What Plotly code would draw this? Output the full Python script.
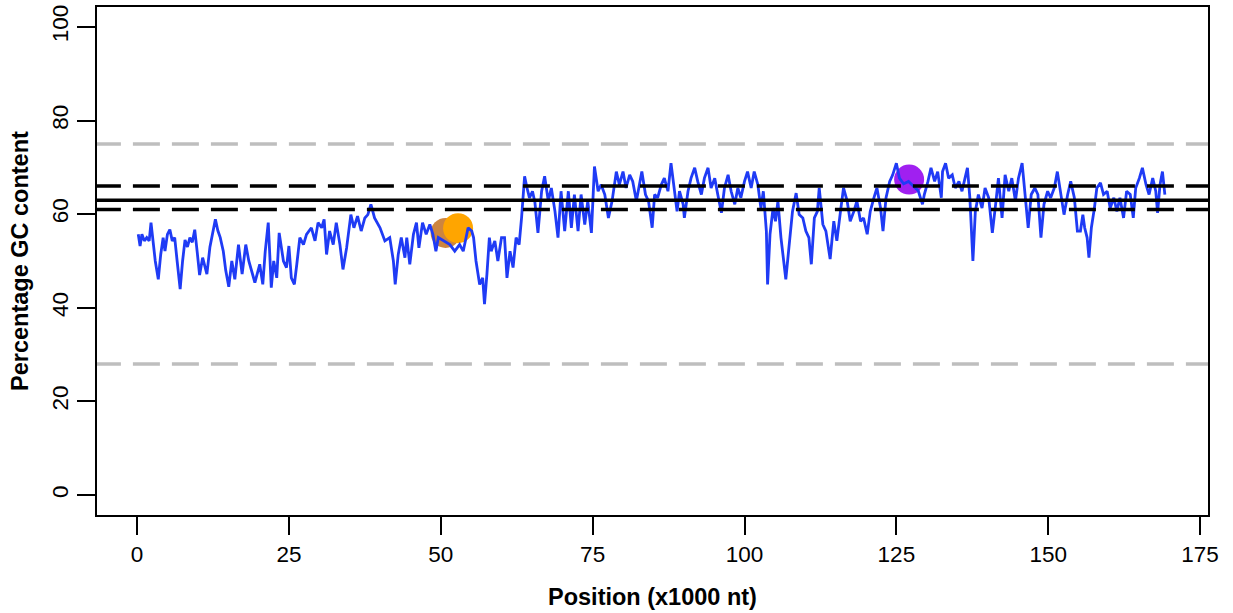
import plotly.graph_objects as go

# Position (x1000 nt) and GC content (%)
position = [
    0.2, 0.5, 0.8, 1.2, 1.6, 2.0, 2.3, 2.7, 3.0, 3.5, 3.9, 4.3, 4.6, 5.0, 5.4, 5.8, 6.2, 6.6, 7.1, 7.5,
    7.9, 8.3, 8.7, 9.1, 9.5, 9.9, 10.3, 10.8, 11.5, 12.0, 12.4, 12.9, 13.3, 13.7, 14.2, 14.6, 15.1, 15.6,
    16.1, 16.7, 17.3, 17.9, 18.4, 19.4, 20.2, 20.7, 21.1, 21.6, 21.9, 22.1, 22.5, 23.0, 23.4, 24.1, 24.6,
    25.0, 25.4, 25.9, 26.3, 26.8, 27.4, 27.9, 28.7, 29.3, 29.8, 30.4, 30.8, 31.2, 31.7, 32.3, 32.8, 33.4,
    33.9, 34.5, 35.2, 35.7, 36.3, 36.9, 37.5, 38.0, 38.5, 39.1, 40.0, 40.8, 41.6, 42.2, 42.5, 43.0, 43.5,
    44.1, 44.4, 44.9, 45.5, 46.0, 46.4, 47.0, 47.6, 48.2, 48.7, 49.2, 49.6, 50.4, 51.5, 52.3, 53.1, 53.7,
    54.5, 55.1, 55.4, 55.8, 56.1, 56.4, 56.9, 57.2, 57.6, 58.0, 58.3, 58.9, 59.4, 60.0, 60.5, 60.9, 61.4,
    61.9, 62.4, 62.9, 63.3, 63.5, 63.8, 64.2, 64.6, 65.1, 65.5, 66.0, 66.6, 67.1, 67.7, 68.2, 68.8, 69.3,
    69.8, 70.4, 71.0, 71.5, 72.0, 72.6, 73.1, 73.7, 74.2, 74.8, 75.3, 75.9, 76.4, 77.0, 77.6, 78.2, 78.9,
    79.4, 80.0, 80.5, 81.1, 81.6, 82.2, 82.7, 83.1, 83.7, 84.2, 84.8, 85.2, 85.7, 86.3, 86.8, 87.4, 87.9,
    88.5, 88.9, 89.3, 89.9, 90.1, 90.7, 91.2, 91.8, 92.3, 92.9, 93.4, 94.0, 94.5, 95.1, 95.6, 96.2, 96.7,
    97.3, 97.8, 98.4, 98.9, 99.4, 100.0, 100.5, 101.1, 101.6, 102.2, 102.7, 103.1, 103.6, 103.8, 104.2,
    104.7, 105.1, 105.5, 106.0, 106.8, 107.4, 107.9, 108.5, 109.0, 109.6, 110.1, 110.6, 111.0, 111.5,
    112.0, 112.3, 112.9, 113.4, 114.1, 114.7, 115.2, 115.8, 116.3, 116.9, 117.4, 118.0, 118.5, 119.1,
    119.6, 120.2, 120.7, 121.3, 121.8, 122.4, 122.8, 123.3, 123.9, 124.4, 125.0, 125.5, 126.2, 127.0,
    127.8, 128.6, 129.3, 129.6, 130.2, 130.7, 131.3, 131.8, 132.4, 132.6, 133.1, 133.6, 134.2, 134.7,
    135.3, 135.8, 136.3, 136.7, 137.1, 137.6, 138.0, 138.5, 139.1, 139.6, 140.2, 140.8, 141.4, 141.8,
    142.4, 142.9, 143.5, 144.0, 144.6, 145.1, 145.7, 146.2, 146.7, 147.2, 147.8, 148.3, 148.8, 149.3,
    149.9, 150.4, 151.0, 151.5, 152.1, 152.6, 153.2, 153.7, 154.3, 154.8, 155.3, 155.7, 156.0, 156.4,
    156.7, 157.1, 157.6, 158.0, 158.6, 159.1, 159.7, 160.2, 160.8, 161.3, 161.8, 162.4, 162.9, 163.5,
    164.0, 164.4, 165.0, 165.5, 166.1, 166.6, 167.2, 167.7, 168.0, 168.4, 168.8, 169.2,
]
gc_content = [
    55.7, 53.2, 55.7, 54.3, 55.0, 54.3, 58.2, 53.5, 50.0, 46.1, 51.4, 55.0, 52.1, 55.7, 56.7, 54.3, 55.0, 50.0, 44.0, 50.0,
    54.5, 53.0, 55.0, 54.0, 56.7, 52.0, 47.0, 50.7, 47.2, 53.0, 56.0, 58.9, 56.5, 55.0, 52.1, 48.0, 44.5, 50.0,
    46.1, 53.5, 47.2, 53.5, 50.0, 45.4, 49.3, 45.0, 52.0, 58.2, 50.0, 44.3, 50.0, 46.4, 56.0, 50.0, 48.6,
    53.2, 46.4, 45.0, 49.3, 55.0, 53.5, 55.7, 57.1, 54.3, 58.2, 57.1, 58.9, 51.4, 56.4, 53.5, 58.2, 53.5,
    48.2, 52.8, 59.9, 57.1, 59.6, 56.4, 59.2, 59.9, 62.1, 59.2, 57.1, 54.3, 55.0, 50.0, 45.0, 51.4, 55.0,
    50.7, 55.0, 49.3, 55.7, 58.2, 52.8, 58.2, 55.7, 57.8, 55.7, 52.1, 55.0, 54.3, 53.5, 52.1, 53.5, 52.1,
    57.1, 56.4, 55.0, 50.0, 47.2, 45.0, 46.4, 40.8, 47.2, 55.0, 52.1, 54.3, 50.0, 55.0, 55.0, 46.4, 52.1,
    48.6, 55.0, 53.5, 59.2, 62.8, 68.1, 65.6, 63.5, 64.9, 62.5, 56.0, 64.9, 68.1, 62.8, 65.6, 60.6, 55.0,
    64.9, 56.4, 64.9, 57.1, 64.2, 56.4, 64.2, 57.8, 62.8, 56.0, 70.2, 64.9, 66.3, 64.2, 59.2, 62.8, 69.1,
    66.3, 69.1, 65.6, 68.4, 67.0, 62.8, 66.3, 69.1, 64.2, 62.8, 57.1, 64.2, 63.5, 66.3, 67.7, 64.9, 70.9,
    64.2, 60.6, 64.9, 62.1, 59.2, 64.9, 67.7, 69.9, 67.0, 64.2, 67.7, 69.9, 65.6, 67.7, 64.2, 60.3, 65.6,
    68.4, 64.9, 62.1, 65.6, 63.5, 67.0, 69.1, 65.6, 69.1, 66.3, 61.3, 64.9, 56.4, 45.0, 55.7,
    61.3, 58.5, 62.8, 55.0, 46.1, 54.3, 60.6, 64.5, 59.9, 59.2, 56.4, 55.0, 49.3, 59.2,
    60.6, 65.6, 57.8, 56.4, 50.4, 58.5, 54.3, 60.6, 65.6, 62.8, 58.5, 60.6, 62.8, 58.5,
    59.2, 55.7, 60.6, 63.5, 65.6, 61.3, 56.4, 63.5, 67.0, 68.4, 70.9, 67.7, 66.5, 67.0,
    66.0, 65.0, 62.1, 64.2, 67.0, 69.9, 67.0, 69.1, 63.5, 69.1, 70.9, 67.7, 68.4, 65.6,
    67.0, 64.9, 67.7, 69.9, 63.5, 50.0, 60.6, 64.2, 61.3, 65.6, 63.5, 56.0, 62.8, 67.7,
    59.2, 68.4, 64.9, 67.7, 62.8, 67.7, 70.9, 64.2, 57.1, 64.2, 65.6, 64.2, 55.0, 62.1,
    64.9, 63.5, 65.6, 69.1, 63.5, 59.9, 64.2, 67.0, 63.5, 56.4, 56.4, 59.9, 57.1, 55.0,
    50.7, 57.1, 61.3, 65.6, 66.7, 64.2, 64.9, 61.3, 63.5, 60.6, 63.5, 59.2, 64.9, 64.2,
    59.2, 65.6, 67.7, 69.9, 66.3, 64.2, 67.7, 64.9, 60.3, 66.3, 69.1, 64.2,
]

# Highlighted points
point_x = [50.8, 52.85, 127.1]
point_y = [56.0, 57.0, 67.4]
point_colors = ["#CD853F", "#FFA500", "#A020F0"]

# Reference lines
gray_lines = [75, 28]
black_dashed = [66, 61]
black_solid = [63]

x_ticks = [0, 25, 50, 75, 100, 125, 150, 175]
y_ticks = [0, 20, 40, 60, 80, 100]

X_RANGE = [-6.59, 176.3]
Y_RANGE = [-4.26, 104.26]
FONT = "Liberation Sans, Arial, Helvetica, sans-serif"

fig = go.Figure()

fig.add_trace(go.Scatter(
    x=point_x, y=point_y, mode="markers",
    marker=dict(size=30, color=point_colors, line=dict(width=0)),
    hoverinfo="skip", showlegend=False,
))

fig.add_trace(go.Scatter(
    x=position, y=gc_content, mode="lines",
    line=dict(color="#1F3BF5", width=2.8),
    showlegend=False,
))

line_x0 = -7.1
line_x1 = 177
for yv in gray_lines:
    fig.add_shape(type="line", xref="x", yref="y", x0=line_x0, x1=line_x1, y0=yv, y1=yv,
                  line=dict(color="#BEBEBE", width=3.5, dash="27px,12px"), layer="above")
for yv in black_dashed:
    fig.add_shape(type="line", xref="x", yref="y", x0=line_x0, x1=line_x1, y0=yv, y1=yv,
                  line=dict(color="black", width=3.5, dash="27px,12px"), layer="above")
for yv in black_solid:
    fig.add_shape(type="line", xref="x", yref="y", x0=line_x0, x1=line_x1, y0=yv, y1=yv,
                  line=dict(color="black", width=3.5), layer="above")

fig.update_layout(
    width=1233, height=613,
    margin=dict(l=97, r=25, t=5, b=98),
    plot_bgcolor="white", paper_bgcolor="white",
    font=dict(family=FONT, size=22, color="black"),
    xaxis=dict(
        range=X_RANGE, tickvals=x_ticks, ticktext=[str(v) for v in x_ticks],
        ticks="outside", ticklen=18, tickwidth=1.8, tickcolor="black",
        showline=True, linecolor="black", linewidth=1.8, mirror=True,
        showgrid=False, zeroline=False, tickfont=dict(size=22.5),
    ),
    yaxis=dict(
        range=Y_RANGE, tickvals=y_ticks, ticktext=[str(v) for v in y_ticks],
        ticks="outside", ticklen=18, tickwidth=1.8, tickcolor="black",
        showline=True, linecolor="black", linewidth=1.8, mirror=True,
        showgrid=False, zeroline=False, tickangle=-90, tickfont=dict(size=22.5),
    ),
    annotations=[
        dict(text="<b>Position (x1000 nt)</b>", xref="paper", yref="paper",
             x=0.5, y=0, yshift=-82, xanchor="center", yanchor="middle",
             showarrow=False, font=dict(size=23.5, family=FONT)),
        dict(text="<b>Percentage GC content</b>", xref="paper", yref="paper",
             x=0, y=0.5, xshift=-77, xanchor="center", yanchor="middle",
             textangle=-90, showarrow=False, font=dict(size=23.5, family=FONT)),
    ],
)

fig.write_html("out.html")
